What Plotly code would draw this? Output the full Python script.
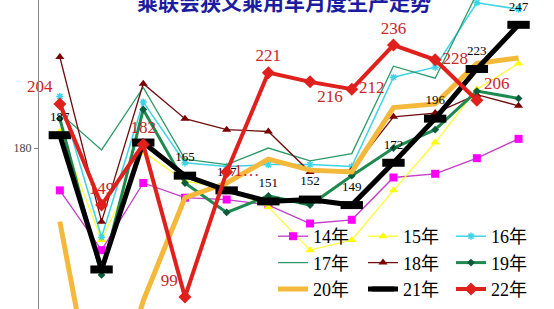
import plotly.graph_objects as go

# Monthly narrow-sense passenger car production (10k units), by year
months = list(range(1, 13))

y14 = [157, 124.5, 161, 153, 152, 149, 139, 141, 164, 166, 174.5, 185]
y15 = [189, 130, 178, 162, 158, 148, 124.5, 130, 157, 183, 212, 226]
y16 = [208, 131.5, 205, 172, 170, 171, 171, 170, 218.5, 224, 259, 255.5]
y17 = [199, 179, 213, 174, 171, 180, 173, 177, 224.5, 218, 264, 268]
y18 = [229.5, 140, 215, 196, 190, 189, 167, 168, 197, 199, 209, 203]
y19 = [196, 111, 201, 161, 145, 154, 149, 165, 180, 190, 211, 207]
y20 = [140, 20, 97, 153, 161, 174, 168, 167, 202, 204, 226, 229]
y21 = [187, 114, 183, 165, 157, 151, 152, 149, 172, 196, 223, 247]
y22 = [204, 149, 182, 99, 167, 221, 216, 212, 236, 228, 206, None]

lbl21 = ["187", "", "", "165", "157", "151", "152", "149", "172", "196", "223", "247"]
lbl22 = ["204", "149", "182", "99", "1…", "221", "216", "212", "236", "228", "206", ""]
pos22 = ["top left", "top center", "top center", "top left", "middle right",
         "top center", "bottom right", "middle right", "top center",
         "middle right", "top right", "top center"]

SERIF = "Liberation Serif, Times New Roman, Noto Sans CJK SC, serif"

fig = go.Figure()

def add(name, ys, color, width, legend, symbol=None, msize=8, mcolor=None, mline=None):
    mode = "lines+markers" if symbol else "lines"
    marker = dict(symbol=symbol or "circle", size=msize, color=mcolor or color)
    if mline:
        marker["line"] = mline
    fig.add_trace(go.Scatter(
        x=months, y=ys, name=name, mode=mode, legend=legend,
        line=dict(color=color, width=width),
        marker=marker, cliponaxis=True))

# legend columns: 14/17/20, 15/18/21, 16/19/22
add("14年", y14, "#c43cc8", 1.3, "legend", "square", 8, "#ff00ff")
add("15年", y15, "#ffff33", 1.3, "legend2", "triangle-up", 8, "#ffff00")
add("16年", y16, "#3fd3e6", 1.5, "legend3", "asterisk-open", 6, "#3fd3e6",
    mline=dict(color="#3fd3e6", width=1.5))
add("17年", y17, "#2e9a6a", 1.3, "legend")
add("18年", y18, "#6e0d0d", 1.3, "legend2", "triangle-up", 8, "#7a0000")
add("19年", y19, "#1f8a50", 3, "legend3", "diamond", 6, "#0b5a3a")
add("20年", y20, "#f4b83a", 5, "legend")

fig.add_trace(go.Scatter(
    x=months, y=y21, name="21年", mode="lines+markers+text", legend="legend2",
    line=dict(color="#000000", width=5),
    marker=dict(symbol="line-ew-open", size=16, color="#000000",
                line=dict(color="#000000", width=8)),
    text=lbl21, textposition="top center",
    textfont=dict(family=SERIF, size=13, color="#000000"),
    cliponaxis=False))

fig.add_trace(go.Scatter(
    x=months, y=y22, name="22年", mode="lines+markers+text", legend="legend3",
    line=dict(color="#e0201c", width=4),
    marker=dict(symbol="diamond", size=10, color="#e0201c"),
    text=lbl22, textposition=pos22,
    textfont=dict(family=SERIF, size=17, color="#c8262b"),
    cliponaxis=False))

fig.add_annotation(
    text="乘联会狭义乘用车月度生产走势", xref="paper", yref="paper",
    x=(284 - 39) / 515, y=1 - 1 / 309, xanchor="center", yanchor="middle",
    showarrow=False,
    font=dict(family="Noto Sans CJK SC", size=21, color="#1c1ca0", weight="bold"))

# lower tick label sitting just past the bottom edge
fig.add_annotation(
    text="90", xref="paper", yref="y", x=-11 / 515, y=90,
    xanchor="right", yanchor="middle", showarrow=False,
    font=dict(family=SERIF, size=12, color="#444444"))

def legend_col(left_px):
    return dict(
        orientation="v", x=(left_px - 39) / 515, y=1 - 218 / 309,
        xanchor="left", yanchor="top", tracegroupgap=0,
        bgcolor="rgba(0,0,0,0)", itemwidth=30,
        font=dict(family=SERIF, size=18, color="#000000"))

fig.update_layout(
    width=554, height=309,
    margin=dict(l=39, r=0, t=0, b=0, autoexpand=False),
    paper_bgcolor="white", plot_bgcolor="white",
    showlegend=True,
    legend=legend_col(273),
    legend2=legend_col(363),
    legend3=legend_col(451),
    xaxis=dict(range=[0.5, 12.85], visible=False, fixedrange=True),
    yaxis=dict(
        range=[92.5, 260.5], tickvals=[90, 180, 270], ticktext=["90", "180", "270"],
        showgrid=False, zeroline=False, showline=True, linecolor="#888888",
        linewidth=1, ticks="outside", ticklen=4, tickcolor="#888888",
        automargin=False,
        tickfont=dict(family=SERIF, size=12, color="#444444")),
)

fig.write_html("out.html")
